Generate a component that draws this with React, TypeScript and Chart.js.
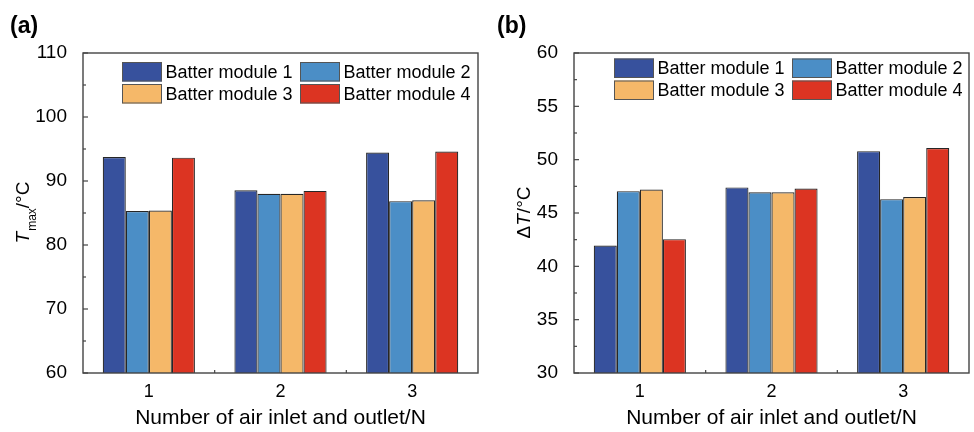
import React, { useEffect, useRef } from "react";
import { Chart, registerables } from "chart.js";

Chart.register(...registerables);

const CATEGORIES = ["1", "2", "3"];
const SERIES_NAMES = ["Batter module 1", "Batter module 2", "Batter module 3", "Batter module 4"];
const COLORS = ["#37519d", "#4b8ec6", "#f5b869", "#dc3422"];

// Panel (a): T_max / °C
const TMAX_M1 = [93.75, 88.55, 94.45];
const TMAX_M2 = [85.3, 88.0, 86.85];
const TMAX_M3 = [85.4, 88.0, 87.0];
const TMAX_M4 = [93.65, 88.45, 94.6];

// Panel (b): ΔT / °C
const DT_M1 = [41.95, 47.4, 50.8];
const DT_M2 = [47.05, 46.95, 46.3];
const DT_M3 = [47.2, 46.95, 46.5];
const DT_M4 = [42.55, 47.3, 51.1];

const X_TITLE = "Number of air inlet and outlet/N";
const FONT = '"Liberation Sans", Arial, Helvetica, sans-serif';

type TitlePart = { text: string; italic?: boolean; sub?: boolean };

type PanelProps = {
  values: number[][];
  yMin: number;
  yMax: number;
  step: number;
  minorStep: number;
  yAxisWidth: number;
  padRight: number;
  panelLabel: string;
  yTitle: TitlePart[];
  yTitleX: number;
  legendX: number;
  legendY: number;
  legendCol2: number;
};

function Panel(p: PanelProps) {
  const ref = useRef<HTMLCanvasElement | null>(null);
  useEffect(() => {
    const canvas = ref.current;
    if (!canvas) return;

    const decor = {
      id: "decor",
      afterDatasetsDraw(chart: any) {
        const ctx = chart.ctx as CanvasRenderingContext2D;
        const a = chart.chartArea;
        const ys = chart.scales.y;
        const xs = chart.scales.x;
        ctx.save();
        // frame
        ctx.strokeStyle = "#444";
        ctx.lineWidth = 1.4;
        ctx.strokeRect(a.left, a.top, a.right - a.left, a.bottom - a.top);
        // y ticks (inward)
        ctx.lineWidth = 1.2;
        for (let v = p.yMin; v <= p.yMax + 1e-9; v += p.minorStep) {
          const y = ys.getPixelForValue(v);
          const isMajor = Math.abs(v / p.step - Math.round(v / p.step)) < 1e-6;
          const len = isMajor ? 5 : 3;
          ctx.beginPath();
          ctx.moveTo(a.left, y);
          ctx.lineTo(a.left + len, y);
          ctx.stroke();
        }
        // x ticks at category boundaries
        for (let i = 0; i < CATEGORIES.length - 1; i++) {
          const x = (xs.getPixelForValue(i) + xs.getPixelForValue(i + 1)) / 2;
          ctx.beginPath();
          ctx.moveTo(x, a.bottom);
          ctx.lineTo(x, a.bottom - 3);
          ctx.stroke();
        }
        // legend
        ctx.font = `18px ${FONT}`;
        ctx.textBaseline = "middle";
        ctx.textAlign = "left";
        const boxW = 40;
        const boxH = 19.5;
        const rowH = 22;
        SERIES_NAMES.forEach((name, i) => {
          const col = i % 2;
          const row = Math.floor(i / 2);
          const bx = col === 0 ? p.legendX : p.legendCol2;
          const by = p.legendY + row * rowH;
          ctx.fillStyle = COLORS[i];
          ctx.fillRect(bx, by, boxW, boxH);
          ctx.strokeStyle = "#555";
          ctx.lineWidth = 1;
          ctx.strokeRect(bx + 0.5, by + 0.5, boxW - 1, boxH - 1);
          ctx.fillStyle = "#000";
          ctx.fillText(name, bx + boxW + 3.5, by + boxH / 2 + 1);
        });
        // x title
        ctx.font = `21px ${FONT}`;
        ctx.textAlign = "center";
        ctx.textBaseline = "alphabetic";
        ctx.fillStyle = "#000";
        ctx.fillText(X_TITLE, (a.left + a.right) / 2, 424);
        // y title (rotated, mixed styles)
        const cy = (a.top + a.bottom) / 2;
        const fontFor = (t: TitlePart) =>
          t.sub ? `12px ${FONT}` : `${t.italic ? "italic " : ""}19px ${FONT}`;
        let total = 0;
        const widths = p.yTitle.map((t) => {
          ctx.font = fontFor(t);
          const w = ctx.measureText(t.text).width;
          total += w;
          return w;
        });
        ctx.translate(p.yTitleX, cy);
        ctx.rotate(-Math.PI / 2);
        ctx.textAlign = "left";
        let x = -total / 2;
        p.yTitle.forEach((t, i) => {
          ctx.font = fontFor(t);
          ctx.fillText(t.text, x, t.sub ? 7.5 : 0);
          x += widths[i] + (t.italic ? 1 : 0);
        });
        ctx.restore();
        // panel label
        ctx.save();
        ctx.font = `bold 23px ${FONT}`;
        ctx.fillStyle = "#000";
        ctx.textAlign = "left";
        ctx.textBaseline = "alphabetic";
        ctx.fillText(p.panelLabel, 10, 32.5);
        ctx.restore();
      },
    };

    const chart = new Chart(canvas, {
      type: "bar",
      data: {
        labels: CATEGORIES,
        datasets: SERIES_NAMES.map((name, i) => ({
          label: name,
          data: p.values[i],
          backgroundColor: COLORS[i],
          borderColor: "#262626",
          borderWidth: 1.2,
          borderSkipped: false,
          categoryPercentage: 0.7,
          barPercentage: 1,
        })),
      },
      options: {
        animation: false,
        responsive: false,
        maintainAspectRatio: false,
        layout: { padding: { left: 0, right: p.padRight, top: 53, bottom: 0 } },
        plugins: { legend: { display: false }, tooltip: { enabled: false } },
        scales: {
          x: {
            grid: { display: false },
            border: { display: false },
            ticks: { font: { family: FONT, size: 18 }, color: "#000", padding: 0 },
            afterFit: (s: any) => {
              s.height = 59;
            },
          },
          y: {
            min: p.yMin,
            max: p.yMax,
            grid: { display: false },
            border: { display: false },
            ticks: { stepSize: p.step, font: { family: FONT, size: 19 }, color: "#000", padding: 8 },
            afterFit: (s: any) => {
              s.width = p.yAxisWidth;
            },
          },
        },
      },
      plugins: [decor],
    });
    return () => chart.destroy();
  }, []);
  return <canvas ref={ref} width={487} height={432} style={{ display: "block", width: 487, height: 432 }} />;
}

export default function App() {
  return (
    <div style={{ position: "fixed", left: 0, top: 0, width: 974, height: 432, background: "#fff", display: "flex" }}>
      <Panel
        values={[TMAX_M1, TMAX_M2, TMAX_M3, TMAX_M4]}
        yMin={60}
        yMax={110}
        step={10}
        minorStep={5}
        yAxisWidth={83}
        padRight={9}
        panelLabel="(a)"
        yTitle={[{ text: "T", italic: true }, { text: "max", sub: true }, { text: "/°C" }]}
        yTitleX={28.5}
        legendX={122}
        legendY={62}
        legendCol2={300}
      />
      <Panel
        values={[DT_M1, DT_M2, DT_M3, DT_M4]}
        yMin={30}
        yMax={60}
        step={5}
        minorStep={2.5}
        yAxisWidth={87}
        padRight={5}
        panelLabel="(b)"
        yTitle={[{ text: "Δ" }, { text: "T", italic: true }, { text: "/°C" }]}
        yTitleX={530 - 487}
        legendX={614 - 487}
        legendY={58.5}
        legendCol2={792 - 487}
      />
    </div>
  );
}
